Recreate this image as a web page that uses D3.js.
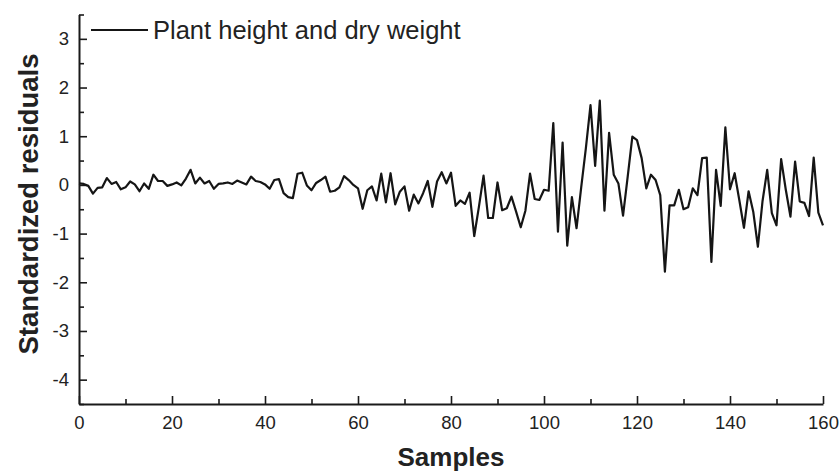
<!DOCTYPE html>
<html>
<head>
<meta charset="utf-8">
<script src="https://cdn.jsdelivr.net/npm/d3@7"></script>
<style>
  html, body { margin: 0; padding: 0; background: #fff; }
  svg { display: block; font-family: Arial, "Liberation Sans", sans-serif; }
</style>
</head>
<body>
<svg id="chart" width="839" height="473"></svg>
<script>
// ---- data ----
const seriesName = "Plant height and dry weight";
const residuals = [
  0.03, 0.02, -0.02, -0.18, -0.06, -0.05, 0.14, 0.02, 0.06, -0.09,
  -0.05, 0.07, 0.01, -0.13, 0.03, -0.08, 0.21, 0.08, 0.08, -0.02,
  0.01, 0.05, -0.01, 0.13, 0.31, 0.03, 0.15, 0.03, 0.08, -0.08,
  0.02, 0.03, 0.05, 0.02, 0.09, 0.05, 0.01, 0.17, 0.08, 0.06,
  0.01, -0.08, 0.10, 0.12, -0.17, -0.25, -0.27, 0.23, 0.25, -0.01,
  -0.11, 0.04, 0.10, 0.17, -0.14, -0.12, -0.05, 0.18, 0.10, 0.00,
  -0.07, -0.49, -0.11, -0.03, -0.32, 0.23, -0.36, 0.24, -0.40, -0.14,
  -0.03, -0.53, -0.20, -0.38, -0.17, 0.08, -0.45, 0.07, 0.26, 0.03,
  0.25, -0.43, -0.32, -0.39, -0.16, -1.05, -0.45, 0.19, -0.68, -0.68,
  0.05, -0.52, -0.48, -0.24, -0.55, -0.87, -0.53, 0.23, -0.29, -0.31,
  -0.10, -0.12, 1.27, -0.96, 0.87, -1.25, -0.25, -0.89, -0.05, 0.75,
  1.64, 0.39, 1.73, -0.53, 1.07, 0.21, 0.03, -0.63, 0.17, 0.99,
  0.92, 0.55, -0.07, 0.21, 0.10, -0.21, -1.78, -0.42, -0.42, -0.10,
  -0.50, -0.46, -0.07, -0.21, 0.55, 0.56, -1.58, 0.31, -0.43, 1.18,
  -0.09, 0.24, -0.31, -0.88, -0.13, -0.55, -1.27, -0.33, 0.31, -0.58,
  -0.83, 0.53, -0.10, -0.65, 0.48, -0.34, -0.37, -0.64, 0.56, -0.57,
  -0.83
];
const samples = residuals.map((_, i) => i);
const xTicks = [0, 20, 40, 60, 80, 100, 120, 140, 160];
const xMinorTicks = [10, 30, 50, 70, 90, 110, 130, 150];
const yTicks = [-4, -3, -2, -1, 0, 1, 2, 3];
const yMinorTicks = [-4.5, -3.5, -2.5, -1.5, -0.5, 0.5, 1.5, 2.5, 3.5];
const xDomain = [0, 160];
const yDomain = [-4.5, 3.5];
const xTitle = "Samples";
const yTitle = "Standardized residuals";

// ---- layout ----
(function () {
const svg = d3.select("#chart");
const mL = 79, mR = 823, mT = 14.5, mB = 404;
const x = d3.scaleLinear().domain(xDomain).range([mL, mR]);
const y = d3.scaleLinear().domain(yDomain).range([mB, mT]);

const ink = "#1a1a1a";
const fmt = d => String(d); // plain hyphen-minus like the reference

// x axis
const gx = svg.append("g").attr("transform", `translate(0,${mB})`);
gx.call(d3.axisBottom(x).tickValues(xTicks).tickSize(-8).tickPadding(12).tickSizeOuter(0).tickFormat(fmt));
gx.append("g").call(d3.axisBottom(x).tickValues(xMinorTicks).tickSize(-5).tickSizeOuter(0).tickFormat(""))
  .select(".domain").remove();

// y axis
const gy = svg.append("g").attr("transform", `translate(${mL},0)`);
gy.call(d3.axisLeft(y).tickValues(yTicks).tickSize(-8).tickPadding(10).tickSizeOuter(0).tickFormat(fmt));
gy.append("g").call(d3.axisLeft(y).tickValues(yMinorTicks).tickSize(-5).tickSizeOuter(0).tickFormat(""))
  .select(".domain").remove();

svg.selectAll(".domain").attr("stroke", ink).attr("stroke-width", 2);
svg.selectAll(".tick line").attr("stroke", ink).attr("stroke-width", 1.6);
svg.selectAll(".tick text").attr("fill", "#222").style("font-size", "18.5px").style("font-family", "Arial, 'Liberation Sans', sans-serif");

// axis titles
svg.append("text")
  .attr("x", 451).attr("y", 466)
  .attr("text-anchor", "middle")
  .style("font-size", "26px").style("font-weight", "bold").attr("fill", "#222")
  .text(xTitle);
svg.append("text")
  .attr("transform", `translate(38,204) rotate(-90)`)
  .attr("text-anchor", "middle")
  .style("font-size", "27.5px").style("font-weight", "bold").attr("fill", "#222")
  .text(yTitle);

// line
const line = d3.line().x((d, i) => x(samples[i])).y(d => y(d));
svg.append("path")
  .datum(residuals)
  .attr("d", line)
  .attr("fill", "none")
  .attr("stroke", "#151515")
  .attr("stroke-width", 2.2)
  .attr("stroke-linejoin", "round");

// legend
const lg = svg.append("g");
lg.append("line").attr("x1", 91).attr("x2", 148).attr("y1", 30).attr("y2", 30)
  .attr("stroke", "#151515").attr("stroke-width", 2.2);
lg.append("text").attr("x", 153).attr("y", 39)
  .style("font-size", "25.5px").attr("fill", "#222").text(seriesName);
})();
</script>
</body>
</html>
